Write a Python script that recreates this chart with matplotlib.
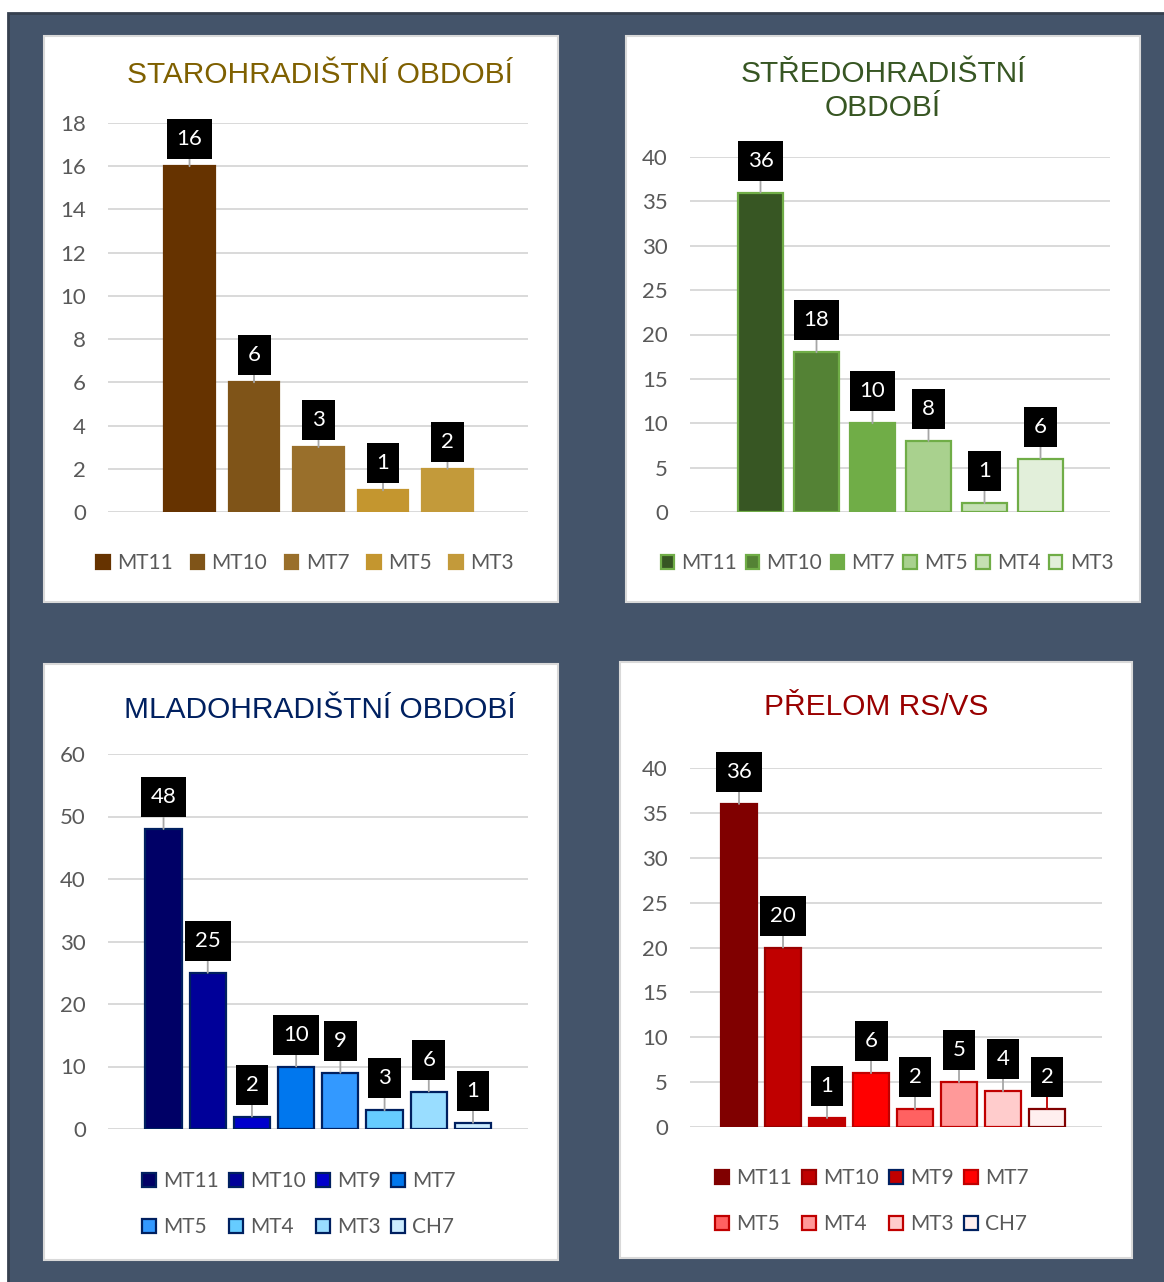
import matplotlib
matplotlib.use("Agg")
import matplotlib.pyplot as plt
from matplotlib.patches import Rectangle, Patch

W, H = 1164, 1282

# data
stare_names = ["MT11", "MT10", "MT7", "MT5", "MT3"]
stare_vals = [16, 6, 3, 1, 2]

stred_names = ["MT11", "MT10", "MT7", "MT5", "MT4", "MT3"]
stred_vals = [36, 18, 10, 8, 1, 6]

mlad_names = ["MT11", "MT10", "MT9", "MT7", "MT5", "MT4", "MT3", "CH7"]
mlad_vals = [48, 25, 2, 10, 9, 3, 6, 1]

prelom_names = ["MT11", "MT10", "MT9", "MT7", "MT5", "MT4", "MT3", "CH7"]
prelom_vals = [36, 20, 1, 6, 2, 5, 4, 2]

plt.rcParams["font.family"] = ["Lato", "DejaVu Sans"]

fig = plt.figure(figsize=(W / 100, H / 100), dpi=100, facecolor="white")


def px_rect(x0, y0, x1, y1, **kw):
    r = Rectangle((x0 / W, 1 - y1 / H), (x1 - x0) / W, (y1 - y0) / H,
                  transform=fig.transFigure, **kw)
    fig.add_artist(r)


# dark background and white cards
px_rect(8, 13, W + 5, H + 5, facecolor="#44546A", edgecolor="#36404F", lw=2, zorder=-10)
px_rect(44, 36, 558, 602, facecolor="white", edgecolor="#D9D9D9", lw=1.5, zorder=-5)
px_rect(626, 36, 1140, 602, facecolor="white", edgecolor="#D9D9D9", lw=1.5, zorder=-5)
px_rect(44, 664, 558, 1260, facecolor="white", edgecolor="#D9D9D9", lw=1.5, zorder=-5)
px_rect(620, 662, 1132, 1258, facecolor="white", edgecolor="#D9D9D9", lw=1.5, zorder=-5)


def panel(box, ylim, step, xlim, names, vals, fills, edges, width, off,
          title, tcolor, tpos, leg_pos, ncol, leg_edges=None, lead=None, colsp=0.9):
    x0, y0, x1, y1 = box
    ax = fig.add_axes([x0 / W, 1 - y1 / H, (x1 - x0) / W, (y1 - y0) / H])
    ax.set_facecolor("none")
    xs = list(range(len(vals)))
    ax.bar(xs, vals, width=width, color=fills, edgecolor=edges, linewidth=1.6, zorder=3)
    ax.set_ylim(0, ylim)
    ax.set_xlim(*xlim)
    ax.set_yticks(range(0, ylim + 1, step))
    ax.yaxis.grid(True, color="#D9D9D9", lw=1.4, zorder=0)
    ax.set_axisbelow(True)
    for s in ax.spines.values():
        s.set_visible(False)
    ax.set_xticks([])
    ax.tick_params(axis="y", length=0, pad=16, labelsize=16, labelcolor="#595959")
    for i, v in enumerate(vals):
        lc = "#A6A6A6" if lead is None else lead[i]
        ax.annotate(str(v), xy=(i, v), xytext=(0, off), textcoords="offset points",
                    ha="center", va="center", color="white", fontsize=16,
                    bbox=dict(boxstyle="square,pad=0.45", fc="black", ec="none"),
                    arrowprops=dict(arrowstyle="-", color=lc, lw=1.3,
                                    shrinkA=0, shrinkB=0),
                    annotation_clip=False, zorder=5)
    # title
    fig.text(tpos[0] / W, 1 - tpos[1] / H, title, ha="center", va="center",
             color=tcolor, fontsize=21.5, linespacing=1.3,
             family=["Liberation Sans", "DejaVu Sans"])
    # legend
    le = edges if leg_edges is None else leg_edges
    handles = [Patch(facecolor=fills[i], edgecolor=le[i], lw=1.6, label=names[i])
               for i in range(len(names))]
    n = len(handles)
    rows = (n + ncol - 1) // ncol
    if rows > 1:
        order = []
        for c in range(ncol):
            for r in range(rows):
                if r * ncol + c < n:
                    order.append(r * ncol + c)
        handles = [handles[k] for k in order]
    fig.legend(handles=handles, loc="center", ncol=ncol,
               bbox_to_anchor=(leg_pos[0] / W, 1 - leg_pos[1] / H),
               frameon=False, fontsize=15, labelcolor="#595959",
               handlelength=0.65, handleheight=0.65, handletextpad=0.35,
               columnspacing=colsp, labelspacing=1.25, borderpad=0)
    return ax


panel((108, 123, 528, 512), 18, 2, (-1.264, 5.248), stare_names, stare_vals,
      ["#663300", "#7F5418", "#996F2B", "#C4962F", "#C39A3A"],
      ["#663300", "#7F5418", "#996F2B", "#C4962F", "#C39A3A"],
      0.79, 19.5, "STAROHRADIŠTNÍ OBDOBÍ", "#7F6000", (320, 75), (305, 563), 5,
      colsp=0.85)

panel((690, 157, 1110, 512), 40, 5, (-1.259, 6.241), stred_names, stred_vals,
      ["#375623", "#548235", "#70AD47", "#A9D18E", "#C5E0B4", "#E2EFDA"],
      ["#70AD47"] * 6,
      0.80, 23, "STŘEDOHRADIŠTNÍ\nOBDOBÍ", "#375623", (883, 91), (887, 563), 6,
      colsp=0.4)

panel((108, 754, 528, 1129), 60, 10, (-1.256, 8.244), mlad_names, mlad_vals,
      ["#000066", "#000099", "#0000CC", "#0077EE", "#3399FF", "#66CCFF", "#99DDFF", "#CCECFF"],
      ["#002060"] * 8,
      0.82, 23, "MLADOHRADIŠTNÍ OBDOBÍ", "#002060", (320, 710), (299, 1204), 4,
      colsp=0.5)

panel((690, 768, 1102, 1127), 40, 5, (-1.114, 8.25), prelom_names, prelom_vals,
      ["#800000", "#C00000", "#C00000", "#FF0000", "#FF6161", "#FF9999", "#FFCCCC", "#FFEFEF"],
      ["#800000", "#990000", "#C00000", "#C00000", "#C00000", "#C00000", "#C00000", "#800000"],
      0.82, 23, "PŘELOM RS/VS", "#990000", (876, 707), (872, 1201), 4,
      leg_edges=["#800000", "#990000", "#002060", "#C00000", "#C00000", "#C00000", "#C00000", "#002060"],
      lead=["#A6A6A6"] * 7 + ["#C00000"],
      colsp=0.5)

fig.savefig("out.png", dpi=100, facecolor="white")
